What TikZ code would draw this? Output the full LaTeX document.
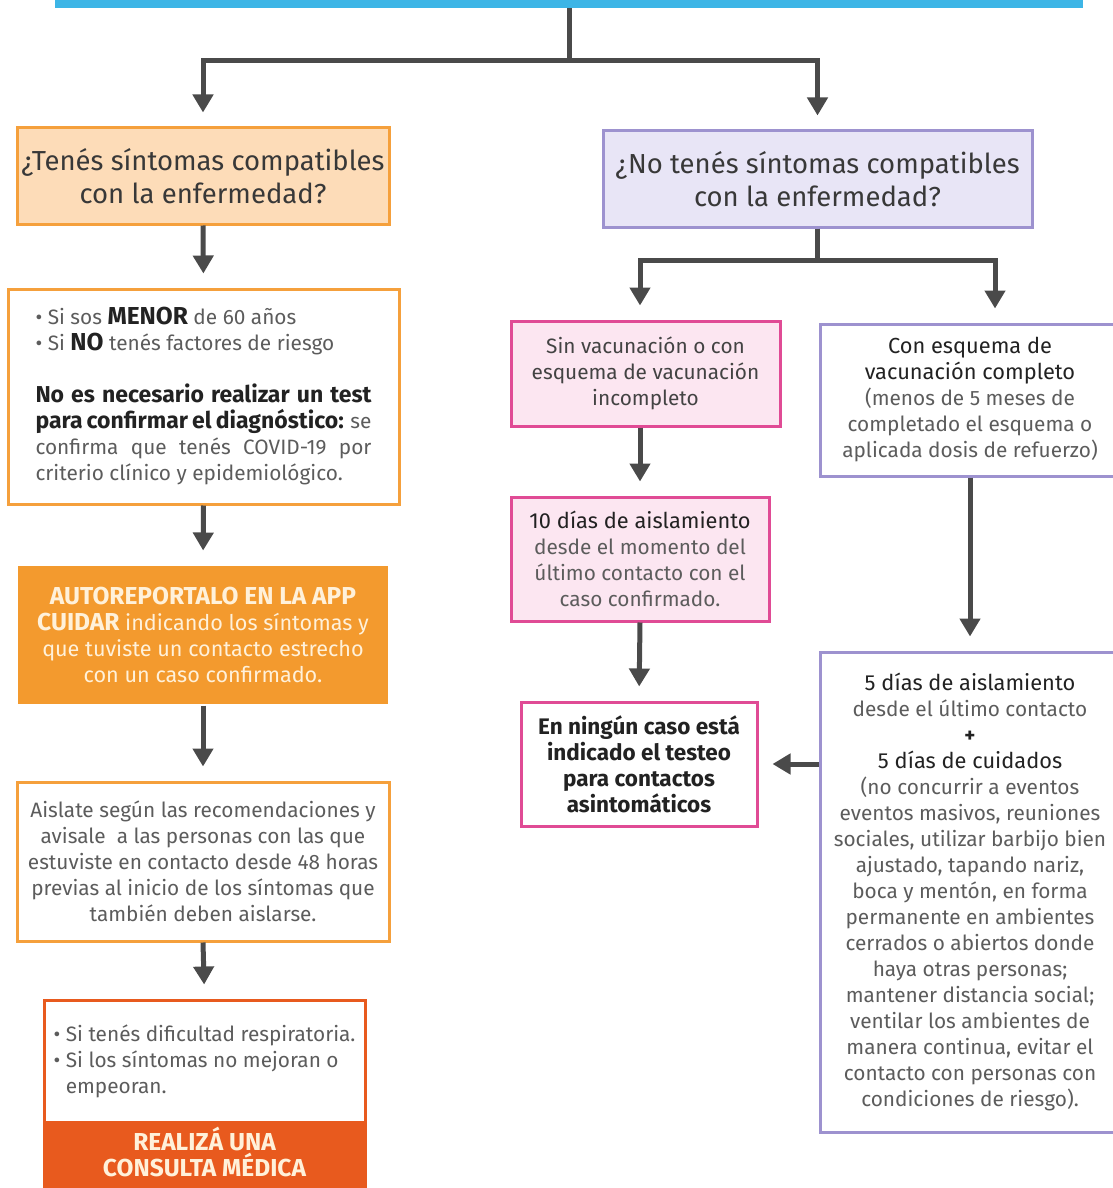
\documentclass[tikz,border=0pt]{standalone}
\usepackage{fontspec}
\setmainfont{Fira Sans}
\usetikzlibrary{arrows.meta,positioning}
\definecolor{barBlue}{HTML}{3DB5E6}
\definecolor{mOrange}{HTML}{F5A03C}
\definecolor{mOrangeFill}{HTML}{FDDCB8}
\definecolor{mOrangeDark}{HTML}{F39A2E}
\definecolor{mRed}{HTML}{E85A1E}
\definecolor{mCream}{HTML}{FFF1DA}
\definecolor{mPurple}{HTML}{9D92CF}
\definecolor{mPurpleFill}{HTML}{E8E5F6}
\definecolor{mPink}{HTML}{E04B95}
\definecolor{mPinkFill}{HTML}{FCE6F1}
\definecolor{mArrow}{HTML}{4A4A4A}
\definecolor{mText}{HTML}{5C5C5C}
\definecolor{mDark}{HTML}{222222}
\newcommand{\bfdark}[2][23]{{\fontsize{#1}{26}\selectfont\bfseries\color{mDark}#2}}
\newcommand{\leadline}[1]{{\fontsize{21.8}{26}\selectfont\color{mDark}#1}}

\begin{document}
\begin{tikzpicture}[x=1pt, y=-1pt,
    box/.style={line width=3pt, inner sep=0pt, align=center, text=mText, font=\fontsize{20.8}{26}\selectfont},
    orangebox/.style={box, draw=mOrange, fill=white},
    pinkbox/.style={box, draw=mPink, fill=mPinkFill},
    purplebox/.style={box, draw=mPurple, fill=white},
    question/.style={box, font=\fontsize{27.5}{33}\selectfont, text=mDark!90},
    flow/.style={draw=mArrow, line width=5pt, -{Triangle[width=20pt,length=18pt]}, shorten >=14pt}]
    \path[use as bounding box, fill=white] (0,0) rectangle (1112,1188);

    \node[fill=barBlue, minimum width=1028, minimum height=10, inner sep=0pt] (bar) at (569,3) {};

    \node[question, draw=mOrange, fill=mOrangeFill, minimum width=372, minimum height=96] (sintomas) at (203,176)
      {¿Tenés síntomas compatibles\\con la enfermedad?};
    \node[question, draw=mPurple, fill=mPurpleFill, minimum width=429, minimum height=96] (nosintomas) at (817.5,179)
      {¿No tenés síntomas compatibles\\con la enfermedad?};

    \node[orangebox, minimum width=391, minimum height=215, text width=336, align=justify] (menor) at (203.5,396.5)
      {\textbullet\ Si sos \bfdark[24.5]{MENOR} de 60 años\\
       \textbullet\ Si \bfdark[24.5]{NO} tenés factores de riesgo\\[26pt]
       \bfdark{No es necesario realizar un test\linebreak para confirmar el diagnóstico:} se\linebreak
       confirma que tenés COVID-19 por\linebreak criterio clínico y epidemiológico.};
    \node[box, fill=mOrangeDark, text=mCream, font=\fontsize{21.6}{26}\selectfont, minimum width=370, minimum height=138] (reporte) at (203,635)
      {{\fontsize{24.5}{26}\selectfont\bfseries AUTOREPORTALO EN LA APP}\\{\fontsize{24.5}{26}\selectfont\bfseries CUIDAR} indicando los síntomas y\\
       que tuviste un contacto estrecho\\con un caso confirmado.};
    \node[orangebox, minimum width=372, minimum height=159] (aislate) at (203,861.5)
      {Aislate según las recomendaciones y\\avisale\ \ a las personas con las que\\
       estuviste en contacto desde 48 horas\\previas al inicio de los síntomas que\\también deben aislarse.};
    \node[box, draw=mRed, fill=white, align=left, minimum width=321, minimum height=122] (alerta) at (204.5,1061)
      {\textbullet\ Si tenés dificultad respiratoria.\\\textbullet\ Si los síntomas no mejoran o\\
       \hphantom{\textbullet\ }empeoran.};
    \node[box, draw=mRed, fill=mRed, text=mCream, font=\fontsize{24.5}{26}\selectfont\bfseries,
      minimum width=321, minimum height=70, text depth=16pt, below=0pt of alerta] (consulta) {REALIZÁ UNA\\CONSULTA MÉDICA};

    \node[pinkbox, text=mDark!85, minimum width=269, minimum height=105] (sinvac) at (645.5,373.5)
      {Sin vacunación o con\\esquema de vacunación\\incompleto};
    \node[pinkbox, minimum width=258, minimum height=124] (diez) at (640,559)
      {\leadline{10 días de aislamiento}\\desde el momento del\\último contacto con el\\caso confirmado.};
    \node[box, draw=mPink, fill=white, text=mDark, font=\fontsize{22.5}{26}\selectfont\bfseries,
      minimum width=236, minimum height=124] (ninguno) at (639,764)
      {En ningún caso está\\indicado el testeo\\para contactos\\asintomáticos};
    \node[purplebox, minimum width=300, minimum height=152] (convac) at (970,400)
      {\leadline{Con esquema de}\\\leadline{vacunación completo}\\(menos de 5 meses de\\
       completado el esquema o\\aplicada dosis de refuerzo)};
    \node[purplebox, minimum width=300, minimum height=480] (cinco) at (970,892)
      {\leadline{5 días de aislamiento}\\desde el último contacto\\{\color{mDark}\bfseries +}\\
       \leadline{5 días de cuidados}\\(no concurrir a eventos\\eventos masivos, reuniones\\
       sociales, utilizar barbijo bien\\ajustado, tapando nariz,\\boca y mentón, en forma\\
       permanente en ambientes\\cerrados o abiertos donde\\haya otras personas;\\
       mantener distancia social;\\ventilar los ambientes de\\manera continua, evitar el\\
       contacto con personas con\\condiciones de riesgo).};

    \draw[flow] (bar.south) -- ++(0,52) -| (sintomas.north);
    \draw[flow] (bar.south) -- ++(0,52) -| (nosintomas.north);
    \draw[flow] (sintomas.south) -- (menor.north);
    \draw[flow] (menor.south) -- (reporte.north);
    \draw[flow] (reporte.south) -- (aislate.north);
    \draw[flow] (aislate.south) -- (alerta.north);
    \draw[flow] (nosintomas.south) -- ++(0,32) -| (sinvac.north -| diez.north);
    \draw[flow] (nosintomas.south) -- ++(0,32) -| ([xshift=25pt]convac.north);
    \draw[flow] (sinvac.south -| diez.north) -- (diez.north);
    \draw[flow] (diez.south) -- (ninguno.north);
    \draw[flow] (convac.south) -- (cinco.north);
    \draw[flow] (cinco.west |- ninguno.east) -- (ninguno.east);
  \end{tikzpicture}
\end{document}
